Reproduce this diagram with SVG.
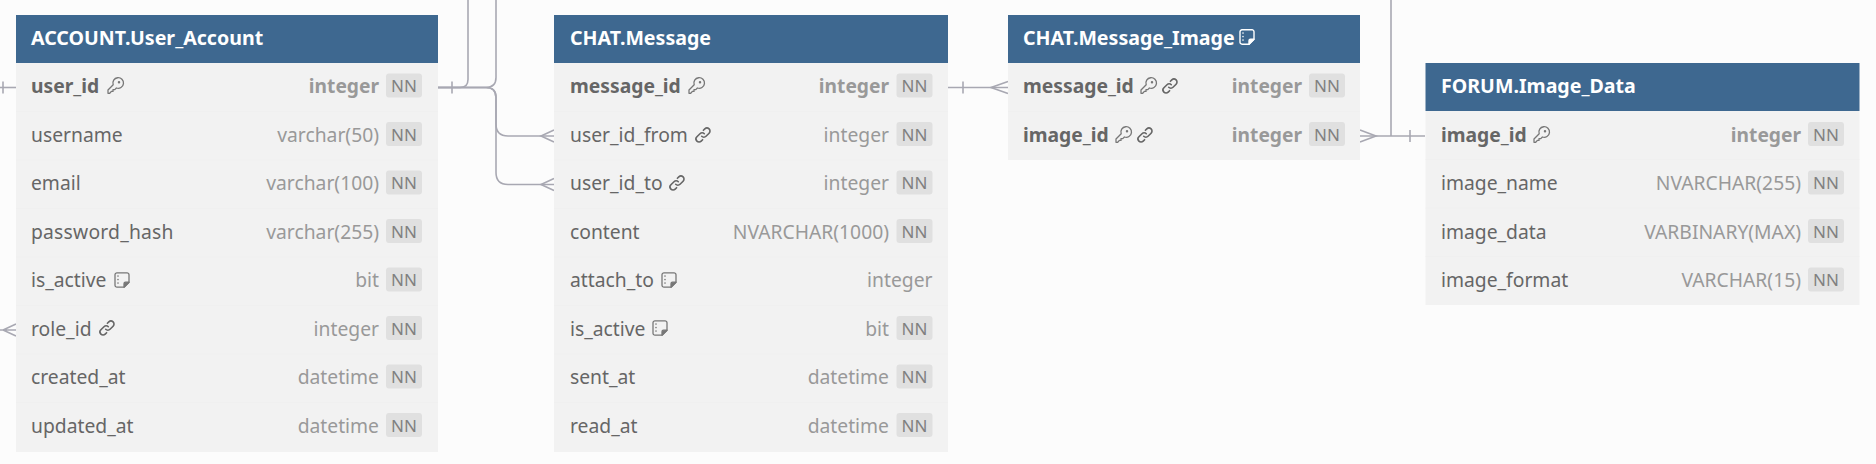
<svg xmlns="http://www.w3.org/2000/svg" xmlns:xlink="http://www.w3.org/1999/xlink" width="1876" height="464" viewBox="0 0 1876 464">
<style>
text{font-family:"Noto Sans","Open Sans","Liberation Sans",sans-serif}
.hd{fill:#3e6890}
.body{fill:#f2f2f2}
.sep{stroke:#f0f0f0;stroke-width:1}
.title{font-size:19.6px;font-weight:700;fill:#fff}
.n{font-size:19.3px;fill:#666}
.pk{font-size:19.3px;font-weight:700;fill:#666}
.t{font-size:19.3px;fill:#999;text-anchor:end}
.tb{font-size:19.2px;font-weight:700;fill:#999;text-anchor:end}
.nnb{fill:#e0e0e0}
.nn{font-size:17px;fill:#808080;text-anchor:middle}
.ic{fill:none;stroke:#777;stroke-width:1.3;stroke-linejoin:round;stroke-linecap:round}
.lk{fill:none;stroke:#666;stroke-width:1.600;stroke-linejoin:round;stroke-linecap:round}
.icw{fill:none;stroke:#fff;stroke-width:1.4;stroke-linejoin:round;stroke-linecap:round}
.c{fill:none;stroke:#a8a8b2;stroke-width:1.6}
</style>
<defs>
<g id="key"><path d="M1 15.300V12L6.200 6.800A5.300 5.300 0 1 1 9.400 10L7.800 11.600H6V13.400H4.400L2.700 15.300Z"/><circle cx="12" cy="4.200" r=".6"/></g>
<g id="link"><path d="M6.700 9.300a3 3 0 0 0 4.300 0l3.100-3.100a3 3 0 0 0-4.300-4.300L8.400 3.300"/><path d="M9.300 6.700a3 3 0 0 0-4.300 0l-3.100 3.100a3 3 0 0 0 4.300 4.300l1.400-1.400"/></g>
<g id="note"><path d="M3 .8h10a2 2 0 0 1 2 2v7.400l-5 5H3a2 2 0 0 1-2-2V2.800a2 2 0 0 1 2-2Z"/><path d="M15 10.200h-3.500a1.500 1.500 0 0 0-1.500 1.500v3.500Z" fill="currentColor"/><path d="M4 4v.1M4 7.500v.1M4 11v.1" stroke-width="1.600"/></g>
</defs>
<rect width="1876" height="464" fill="#fcfcfc"/>

<g id="connectors">
<path class="c" d="M0 87.500H16"/><path class="c" d="M3 81.500V93.500"/>
<path class="c" d="M0 330H16M16 324L3 330L16 336"/>
<path class="c" d="M438 87.500H460Q468 87.500 468 79.500V0"/>
<path class="c" d="M438 87.500H486Q496 87.500 496 77.500V0"/>
<path class="c" d="M438 87.500H486Q496 87.500 496 97.500V124Q496 136 508 136H554"/>
<path class="c" d="M438 87.500H486Q496 87.500 496 97.500V172.500Q496 184.500 508 184.500H554"/>
<path class="c" d="M452 81.500V93.500"/>
<path class="c" d="M554 130L541 136L554 142M554 178.500L541 184.500L554 190.500"/>
<path class="c" d="M948 87.500H1008"/>
<path class="c" d="M963 81.500V93.500"/>
<path class="c" d="M1008 81.500L991 87.500L1008 93.500"/>
<path class="c" d="M1360 136H1425"/>
<path class="c" d="M1391 136V0"/>
<path class="c" d="M1360 130L1376 136L1360 142"/>
<path class="c" d="M1410 130V142"/>
</g>

<g id="table-user-account">
<rect class="body" x="16" y="63" width="422" height="389"/>
<rect class="hd" x="16" y="15" width="422" height="48"/>
<path class="sep" d="M16 111.500H438M16 160H438M16 208.500H438M16 257H438M16 305.500H438M16 354H438M16 402.500H438"/>
<text class="title" x="31" y="44.500">ACCOUNT.User_Account</text>
<text class="pk" x="31" y="93">user_id</text><use href="#key" x="107" y="78" class="ic"/>
<text class="tb" x="379" y="93">integer</text><rect class="nnb" x="386" y="73.500" width="36" height="24" rx="3"/><text class="nn" x="404" y="92">NN</text>
<text class="n" x="31" y="141.500">username</text>
<text class="t" x="379" y="141.500">varchar(50)</text><rect class="nnb" x="386" y="122" width="36" height="24" rx="3"/><text class="nn" x="404" y="140.500">NN</text>
<text class="n" x="31" y="190">email</text>
<text class="t" x="379" y="190">varchar(100)</text><rect class="nnb" x="386" y="170.500" width="36" height="24" rx="3"/><text class="nn" x="404" y="189">NN</text>
<text class="n" x="31" y="238.500" textLength="142.500">password_hash</text>
<text class="t" x="379" y="238.500">varchar(255)</text><rect class="nnb" x="386" y="219" width="36" height="24" rx="3"/><text class="nn" x="404" y="237.500">NN</text>
<text class="n" x="31" y="287">is_active</text><use href="#note" x="114" y="272" class="ic" color="#777"/>
<text class="t" x="379" y="287">bit</text><rect class="nnb" x="386" y="267.500" width="36" height="24" rx="3"/><text class="nn" x="404" y="286">NN</text>
<text class="n" x="31" y="335.500">role_id</text><use href="#link" x="99" y="320" class="lk"/>
<text class="t" x="379" y="335.500">integer</text><rect class="nnb" x="386" y="316" width="36" height="24" rx="3"/><text class="nn" x="404" y="334.500">NN</text>
<text class="n" x="31" y="384">created_at</text>
<text class="t" x="379" y="384">datetime</text><rect class="nnb" x="386" y="364.500" width="36" height="24" rx="3"/><text class="nn" x="404" y="383">NN</text>
<text class="n" x="31" y="432.500">updated_at</text>
<text class="t" x="379" y="432.500">datetime</text><rect class="nnb" x="386" y="413" width="36" height="24" rx="3"/><text class="nn" x="404" y="431.500">NN</text>
</g>

<g id="table-message">
<rect class="body" x="554" y="63" width="394" height="389"/>
<rect class="hd" x="554" y="15" width="394" height="48"/>
<path class="sep" d="M554 111.500H948M554 160H948M554 208.500H948M554 257H948M554 305.500H948M554 354H948M554 402.500H948"/>
<text class="title" x="570" y="44.500">CHAT.Message</text>
<text class="pk" x="570" y="93">message_id</text><use href="#key" x="688" y="78" class="ic"/>
<text class="tb" x="889" y="93">integer</text><rect class="nnb" x="896.500" y="73.500" width="36" height="24" rx="3"/><text class="nn" x="914.500" y="92">NN</text>
<text class="n" x="570" y="141.500">user_id_from</text><use href="#link" x="695" y="127" class="lk"/>
<text class="t" x="889" y="141.500">integer</text><rect class="nnb" x="896.500" y="122" width="36" height="24" rx="3"/><text class="nn" x="914.500" y="140.500">NN</text>
<text class="n" x="570" y="190">user_id_to</text><use href="#link" x="669" y="175" class="lk"/>
<text class="t" x="889" y="190">integer</text><rect class="nnb" x="896.500" y="170.500" width="36" height="24" rx="3"/><text class="nn" x="914.500" y="189">NN</text>
<text class="n" x="570" y="238.500">content</text>
<text class="t" x="889" y="238.500">NVARCHAR(1000)</text><rect class="nnb" x="896.500" y="219" width="36" height="24" rx="3"/><text class="nn" x="914.500" y="237.500">NN</text>
<text class="n" x="570" y="287">attach_to</text><use href="#note" x="661" y="272" class="ic" color="#777"/>
<text class="t" x="932.500" y="287">integer</text>
<text class="n" x="570" y="335.500">is_active</text><use href="#note" x="652" y="320" class="ic" color="#777"/>
<text class="t" x="889" y="335.500">bit</text><rect class="nnb" x="896.500" y="316" width="36" height="24" rx="3"/><text class="nn" x="914.500" y="334.500">NN</text>
<text class="n" x="570" y="384">sent_at</text>
<text class="t" x="889" y="384">datetime</text><rect class="nnb" x="896.500" y="364.500" width="36" height="24" rx="3"/><text class="nn" x="914.500" y="383">NN</text>
<text class="n" x="570" y="432.500">read_at</text>
<text class="t" x="889" y="432.500">datetime</text><rect class="nnb" x="896.500" y="413" width="36" height="24" rx="3"/><text class="nn" x="914.500" y="431.500">NN</text>
</g>

<g id="table-message-image">
<rect class="body" x="1008" y="63" width="352" height="97"/>
<rect class="hd" x="1008" y="15" width="352" height="48"/>
<path class="sep" d="M1008 111.500H1360"/>
<text class="title" x="1023" y="44.500">CHAT.Message_Image</text><use href="#note" x="1239" y="29" class="icw" color="#fff"/>
<text class="pk" x="1023" y="93">message_id</text><use href="#key" x="1140" y="78" class="ic"/><use href="#link" x="1162" y="78" class="lk"/>
<text class="tb" x="1302" y="93">integer</text><rect class="nnb" x="1309" y="73.500" width="36" height="24" rx="3"/><text class="nn" x="1327" y="92">NN</text>
<text class="pk" x="1023" y="141.500">image_id</text><use href="#key" x="1115" y="127" class="ic"/><use href="#link" x="1137" y="127" class="lk"/>
<text class="tb" x="1302" y="141.500">integer</text><rect class="nnb" x="1309" y="122" width="36" height="24" rx="3"/><text class="nn" x="1327" y="140.500">NN</text>
</g>

<g id="table-image-data">
<rect class="body" x="1425.500" y="111" width="434" height="194"/>
<rect class="hd" x="1425.500" y="63" width="434" height="48"/>
<path class="sep" d="M1425.500 159.500H1859.500M1425.500 208H1859.500M1425.500 256.500H1859.500"/>
<text class="title" x="1441" y="92.500">FORUM.Image_Data</text>
<text class="pk" x="1441" y="141.500">image_id</text><use href="#key" x="1533" y="127" class="ic"/>
<text class="tb" x="1801" y="141.500">integer</text><rect class="nnb" x="1808" y="122" width="36" height="24" rx="3"/><text class="nn" x="1826" y="140.500">NN</text>
<text class="n" x="1441" y="190">image_name</text>
<text class="t" x="1801" y="190">NVARCHAR(255)</text><rect class="nnb" x="1808" y="170.500" width="36" height="24" rx="3"/><text class="nn" x="1826" y="189">NN</text>
<text class="n" x="1441" y="238.500">image_data</text>
<text class="t" x="1801" y="238.500">VARBINARY(MAX)</text><rect class="nnb" x="1808" y="219" width="36" height="24" rx="3"/><text class="nn" x="1826" y="237.500">NN</text>
<text class="n" x="1441" y="287">image_format</text>
<text class="t" x="1801" y="287">VARCHAR(15)</text><rect class="nnb" x="1808" y="267.500" width="36" height="24" rx="3"/><text class="nn" x="1826" y="286">NN</text>
</g>
</svg>
